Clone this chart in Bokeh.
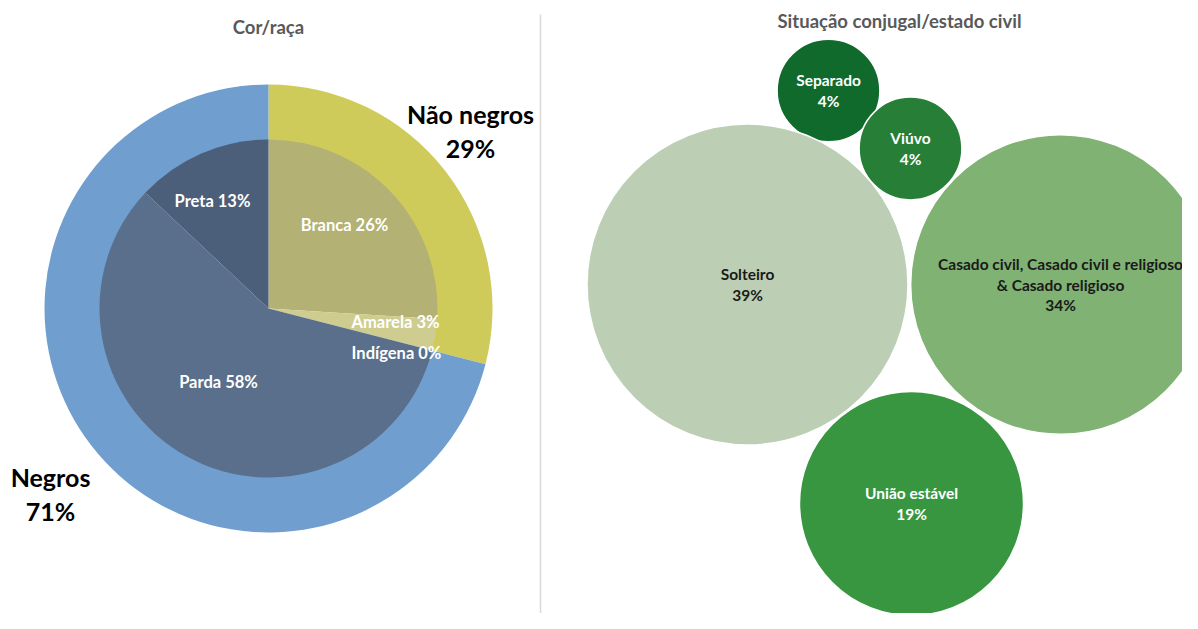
from bokeh.plotting import figure
from bokeh.models import Range1d, ColumnDataSource
from bokeh.core.properties import value
from bokeh.embed import file_html
from bokeh.resources import INLINE
import math

# ---------------- data ----------------
outer_labels = ["Não negros", "Negros"]
outer_values = [29, 71]
outer_colors = ["#CFCB5B", "#709ECE"]

inner_labels = ["Branca", "Amarela", "Indígena", "Parda", "Preta"]
inner_values = [26, 3, 0, 58, 13]
inner_colors = ["#B3B173", "#CECD8F", "#CECD8F", "#596F8B", "#4B5F7B"]

bubble_labels = ["Separado", "Viúvo", "Solteiro",
                 "Casado civil, Casado civil e religioso\n& Casado religioso",
                 "União estável"]
bubble_values = [4, 4, 39, 34, 19]
bubble_colors = ["#0F6A2C", "#267E37", "#BCCFB4", "#80B274", "#37963F"]
bubble_text_colors = ["white", "white", "#1a1a1a", "#1a1a1a", "white"]

W, H = 1182, 613
FONT = "Lato"


def fx(x):
    return x


def fy(y):
    return H - y


p = figure(width=W, height=H, output_backend="svg", toolbar_location=None,
           x_range=Range1d(0, W), y_range=Range1d(0, H), min_border=0,
           match_aspect=False)
p.axis.visible = False
p.grid.visible = False
p.outline_line_color = None
p.background_fill_color = "white"

# ---------------- pie ----------------
cx, cy = fx(268), fy(308)
R_OUT, R_IN = 224, 169


def angles(vals):
    tot = sum(vals)
    starts, ends = [], []
    c = 0
    for v in vals:
        starts.append(math.pi / 2 - 2 * math.pi * c / tot)
        c += v
        ends.append(math.pi / 2 - 2 * math.pi * c / tot)
    return starts, ends

os_, oe = angles(outer_values)
src_o = ColumnDataSource(dict(s=os_, e=oe, c=outer_colors))
p.annular_wedge(x=cx, y=cy, inner_radius=R_IN - 1, outer_radius=R_OUT,
                start_angle="s", end_angle="e", direction="clock",
                fill_color="c", line_color=None, source=src_o)

is_, ie = angles(inner_values)
keep = [i for i, v in enumerate(inner_values) if v > 0]
src_i = ColumnDataSource(dict(s=[is_[i] for i in keep], e=[ie[i] for i in keep],
                              c=[inner_colors[i] for i in keep]))
p.wedge(x=cx, y=cy, radius=R_IN, start_angle="s", end_angle="e",
        direction="clock", fill_color="c", line_color=None, source=src_i)

# inner labels
inner_pos = [(344, 224), (395, 321), (396, 352), (218, 381), (212, 200)]
for (x, y), lab, v in zip(inner_pos, inner_labels, inner_values):
    p.text(x=[fx(x)], y=[fy(y)], text=[f"{lab} {v}%"], text_color="white",
           text_font=value(FONT), text_font_style="bold", text_font_size="16.5px",
           text_align="center", text_baseline="middle")

# outer labels
outer_pos = [(470, 113), (50, 476)]
for (x, y), lab, v in zip(outer_pos, outer_labels, outer_values):
    p.text(x=[fx(x)], y=[fy(y)], text=[lab], text_color="black",
           text_font=value(FONT), text_font_style="bold", text_font_size="25px",
           text_align="center", text_baseline="middle")
    p.text(x=[fx(x)], y=[fy(y + 34)], text=[f"{v}%"], text_color="black",
           text_font=value(FONT), text_font_style="bold", text_font_size="25px",
           text_align="center", text_baseline="middle")

# titles
p.text(x=[fx(268)], y=[fy(26)], text=["Cor/raça"], text_color="#595959",
       text_font=value(FONT), text_font_style="bold", text_font_size="18.5px",
       text_align="center", text_baseline="middle")
p.text(x=[fx(899)], y=[fy(20)], text=["Situação conjugal/estado civil"],
       text_color="#595959", text_font=value(FONT), text_font_style="bold",
       text_font_size="18.5px", text_align="center", text_baseline="middle")

# divider
p.line(x=[fx(540), fx(540)], y=[fy(14), fy(640)], line_color="#D9D9D9", line_width=1.5)

# ---------------- bubbles ----------------
K = 25.7
bubble_pos = [(828, 90), (910, 148), (747, 284), (1060, 284), (911, 503)]
src_b = ColumnDataSource(dict(x=[fx(x) for x, _ in bubble_pos],
                              y=[fy(y) for _, y in bubble_pos],
                              r=[K * math.sqrt(v) for v in bubble_values],
                              c=bubble_colors))
p.circle(x="x", y="y", radius="r", fill_color="c", line_color="white",
         line_width=1.5, source=src_b)

for (x, y), lab, v, tc in zip(bubble_pos, bubble_labels, bubble_values, bubble_text_colors):
    lines = lab.split("\n") + [f"{v}%"]
    n = len(lines)
    lh = 20.5
    for k, ln in enumerate(lines):
        yy = y + (k - (n - 1) / 2) * lh
        p.text(x=[fx(x)], y=[fy(yy)], text=[ln], text_color=tc,
               text_font=value(FONT), text_font_style="bold", text_font_size="15.5px",
               text_align="center", text_baseline="middle")

open("out.html", "w").write(file_html(p, INLINE))
